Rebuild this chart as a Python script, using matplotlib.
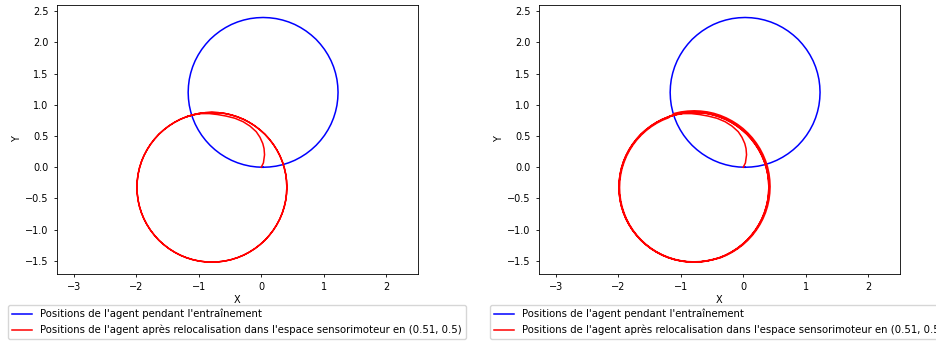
import numpy as np
from matplotlib import pyplot as plt

# positions (x, y), training run (blue)
blue_x = [0.030, 0.135, 0.238, 0.341, 0.440, 0.537, 0.630, 0.718, 0.801, 0.879, 0.949, 1.013,
          1.069, 1.118, 1.158, 1.189, 1.212, 1.225, 1.230, 1.225, 1.212, 1.189, 1.158, 1.118,
          1.069, 1.013, 0.949, 0.879, 0.801, 0.718, 0.630, 0.537, 0.440, 0.341, 0.238, 0.135,
          0.030, -0.075, -0.178, -0.281, -0.380, -0.477, -0.570, -0.658, -0.741, -0.819, -0.889,
          -0.953, -1.009, -1.058, -1.098, -1.129, -1.152, -1.165, -1.170, -1.165, -1.152, -1.129,
          -1.098, -1.058, -1.009, -0.953, -0.889, -0.819, -0.741, -0.658, -0.570, -0.477, -0.380,
          -0.281, -0.178, -0.075, 0.030]
blue_y = [0.000, 0.005, 0.018, 0.041, 0.072, 0.112, 0.161, 0.217, 0.281, 0.352, 0.429, 0.512,
          0.600, 0.693, 0.790, 0.889, 0.992, 1.095, 1.200, 1.305, 1.408, 1.511, 1.610, 1.707,
          1.800, 1.888, 1.971, 2.049, 2.119, 2.183, 2.239, 2.288, 2.328, 2.359, 2.382, 2.395,
          2.400, 2.395, 2.382, 2.359, 2.328, 2.288, 2.239, 2.183, 2.119, 2.049, 1.971,
          1.888, 1.800, 1.707, 1.610, 1.511, 1.408, 1.305, 1.200, 1.095, 0.992, 0.889,
          0.790, 0.693, 0.600, 0.512, 0.429, 0.352, 0.281, 0.217, 0.161, 0.112, 0.072,
          0.041, 0.018, 0.005, 0.000]

# start of the red path (hook leaving the origin)
hook_x = [0.0, 0.035, 0.053, 0.045, 0.025, -0.02, -0.08, -0.18, -0.29, -0.42, -0.56, -0.7, -0.83, -0.96, -1.09]
hook_y = [0.0, 0.07, 0.2, 0.3, 0.38, 0.48, 0.57, 0.66, 0.73, 0.785, 0.82, 0.845, 0.86, 0.86, 0.84]

# red loop, left and bottom half
low_x = [-1.200, -1.297, -1.390, -1.478, -1.561, -1.639, -1.709, -1.773, -1.829, -1.878, -1.918, -1.949,
         -1.972, -1.985, -1.990, -1.985, -1.972, -1.949, -1.918, -1.878, -1.829, -1.773, -1.709, -1.639,
         -1.561, -1.478, -1.390, -1.297, -1.200, -1.101, -0.998, -0.895, -0.790, -0.685, -0.582, -0.479]
low_y = [0.808, 0.768, 0.719, 0.663, 0.599, 0.529, 0.451, 0.368, 0.280, 0.187, 0.090, -0.009,
         -0.112, -0.215, -0.320, -0.425, -0.528, -0.631, -0.730, -0.827, -0.920, -1.008, -1.091, -1.169,
         -1.239, -1.303, -1.359, -1.408, -1.448, -1.479, -1.502, -1.515, -1.520, -1.515, -1.502, -1.479]

# red loop, right and top half
up_x = [-0.380, -0.283, -0.190, -0.102, -0.019, 0.059, 0.129, 0.193, 0.249, 0.298, 0.338, 0.369,
        0.392, 0.405, 0.410, 0.405, 0.392, 0.369, 0.338, 0.298, 0.249, 0.193, 0.129, 0.059,
        -0.019, -0.102, -0.190, -0.283, -0.380, -0.479, -0.582, -0.685, -0.790, -0.895, -0.998, -1.101, -1.200]
up_y = [-1.448, -1.408, -1.359, -1.303, -1.239, -1.169, -1.091, -1.008, -0.920, -0.827, -0.730, -0.631,
        -0.528, -0.425, -0.320, -0.215, -0.112, -0.009, 0.090, 0.187, 0.280, 0.368, 0.451, 0.529,
        0.599, 0.663, 0.719, 0.768, 0.808, 0.839, 0.862, 0.875, 0.880, 0.875, 0.862, 0.839, 0.808]

# second run: one pass a bit wider on the right
outer_x = [-0.370, -0.272, -0.178, -0.088, -0.004, 0.074, 0.146, 0.210, 0.267, 0.316, 0.357, 0.389,
           0.412, 0.425, 0.430, 0.425, 0.412, 0.389, 0.357, 0.316, 0.267, 0.210, 0.146, 0.074,
           -0.004, -0.088, -0.178, -0.272, -0.370, -0.470, -0.574, -0.679, -0.785, -0.891, -0.996, -1.100]
outer_y = [-1.452, -1.411, -1.362, -1.305, -1.241, -1.169, -1.091, -1.007, -0.918, -0.824, -0.726, -0.625,
           -0.521, -0.416, -0.310, -0.204, -0.099, 0.005, 0.106, 0.204, 0.298, 0.387, 0.471, 0.549,
           0.621, 0.685, 0.742, 0.791, 0.832, 0.864, 0.887, 0.900, 0.905, 0.900, 0.887, 0.864]

# second run: one pass a bit inside on the left
inner_x = [-1.197, -1.293, -1.385, -1.473, -1.555, -1.632, -1.702, -1.765, -1.821, -1.869, -1.908, -1.940,
           -1.962, -1.976, -1.980, -1.976, -1.962, -1.940, -1.908, -1.869, -1.821, -1.765, -1.702, -1.632,
           -1.555, -1.473, -1.385, -1.293, -1.197, -1.098, -0.997, -0.894, -0.790, -0.686, -0.583, -0.480]
inner_y = [0.793, 0.754, 0.706, 0.650, 0.587, 0.517, 0.440, 0.358, 0.270, 0.178, 0.082, -0.017,
           -0.118, -0.221, -0.325, -0.429, -0.532, -0.633, -0.732, -0.828, -0.920, -1.008, -1.090, -1.167,
           -1.237, -1.300, -1.356, -1.404, -1.443, -1.475, -1.497, -1.511, -1.515, -1.511, -1.497, -1.475]

red1_x = hook_x + low_x + up_x + low_x + up_x
red1_y = hook_y + low_y + up_y + low_y + up_y
red2_x = hook_x + low_x + outer_x + inner_x + up_x + low_x + up_x
red2_y = hook_y + low_y + outer_y + inner_y + up_y + low_y + up_y

lab_blue = "Positions de l'agent pendant l'entraînement"
lab_red = "Positions de l'agent après relocalisation dans l'espace sensorimoteur en (0.51, 0.5)"

plt.rcParams['font.size'] = 7
plt.rcParams['legend.fontsize'] = 7.3
plt.rcParams['axes.linewidth'] = 0.6
plt.rcParams['xtick.major.width'] = 0.6
plt.rcParams['ytick.major.width'] = 0.6
plt.rcParams['xtick.major.size'] = 2.5
plt.rcParams['ytick.major.size'] = 2.5

fig = plt.figure(figsize=(9.36, 3.42), dpi=100)
runs = [(red1_x, red1_y), (red2_x, red2_y)]
lefts = [57 / 936, 539 / 936]

for left, (rx, ry) in zip(lefts, runs):
    ax = fig.add_axes([left, 1 - 274 / 342, 361 / 936, 269 / 342])
    ax.plot(blue_x, blue_y, 'b-', lw=1.1, label=lab_blue)
    ax.plot(rx, ry, 'r-', lw=1.1, label=lab_red)
    ax.set_xlim(-3.27, 2.51)
    ax.set_ylim(-1.71, 2.6)
    ax.set_xlabel('X', labelpad=2)
    ax.set_ylabel('Y', labelpad=2)
    ax.legend(loc='upper left', bbox_to_anchor=(-0.136, -0.115), borderaxespad=0)

fig.savefig('out.png', dpi=100)
